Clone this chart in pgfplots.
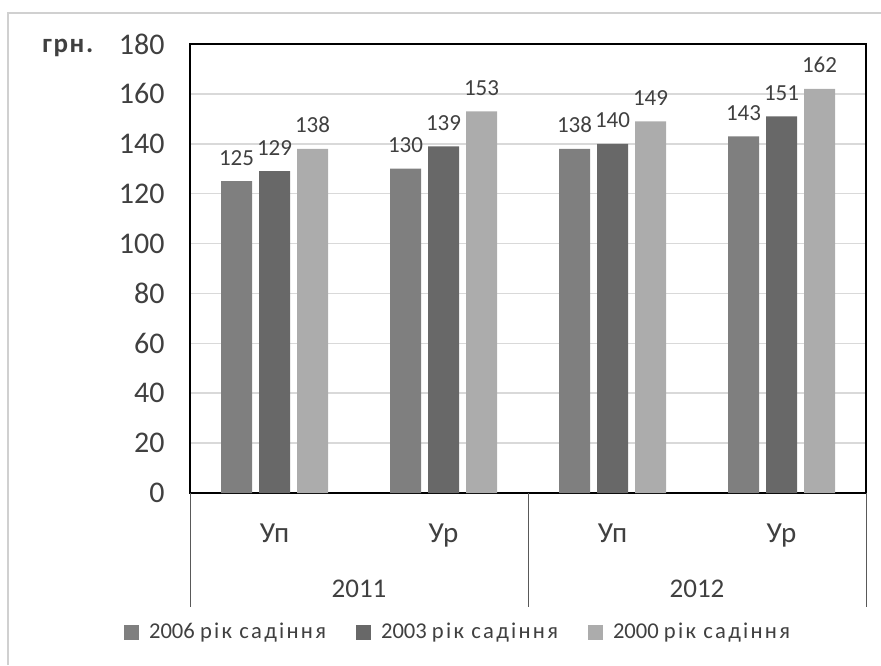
\documentclass[border=0pt]{standalone}
\usepackage{pgfplots}
\pgfplotsset{compat=1.18}
\usepackage{fontspec}
\setmainfont{Carlito}
\newfontfamily\spaced[LetterSpace=10]{Carlito}
\newfontfamily\spacedb[LetterSpace=6]{Carlito}
\definecolor{cA}{HTML}{7F7F7F}
\definecolor{cB}{HTML}{686868}
\definecolor{cC}{HTML}{ACACAC}
\definecolor{txt}{HTML}{404040}
\definecolor{gridc}{HTML}{D9D9D9}
\definecolor{framec}{HTML}{D0D0D0}
\definecolor{sepc}{HTML}{595959}
\begin{document}
\begin{tikzpicture}
\useasboundingbox (0,0) rectangle (440.5pt,332.5pt);
\draw[framec, line width=0.75pt] (4pt,0) -- (4pt,326pt) -- (440.5pt,326pt);
\node[anchor=base west, font=\fontsize{13.5}{15}\spacedb\bfseries, text=txt, inner sep=0] at (21pt,306pt) {грн.};
\begin{axis}[
 at={(95pt,86pt)}, anchor=south west, scale only axis, width=338pt, height=224.5pt,
 ybar=3.5pt, bar width=15.5pt,
 xmin=-0.5, xmax=3.5, ymin=0, ymax=180,
 xtick={0,1,2,3}, xticklabels={Уп,Ур,Уп,Ур},
 ytick={0,20,...,180},
 major tick length=0pt,
 axis line style={black, line width=0.75pt},
 ymajorgrids, grid style={gridc, line width=0.75pt},
 /pgf/number format/assume math mode=true,
 yticklabel style={font=\fontsize{15}{18}\selectfont, text=txt, inner sep=0pt, xshift=-12.5pt},
 xticklabel style={font=\fontsize{14.5}{17}\selectfont, text=txt, inner sep=0pt, anchor=base, yshift=-24.5pt},
 nodes near coords,
 every node near coord/.append style={font=\fontsize{11.5}{13}\selectfont, text=txt, anchor=base, yshift=8pt, inner sep=0pt},
 clip=false,
 legend columns=3,
 legend style={at={(0.398,-0.311)}, anchor=center, draw=none, font=\fontsize{11.3}{13}\selectfont, text=txt,
   /tikz/every even column/.append style={column sep=13pt}},
 legend image code/.code={\fill[#1] (0pt,-3.75pt) rectangle (7.5pt,3.75pt); \path (10.5pt,0pt);},
]
\addplot[fill=cA, draw=none] coordinates {(0,125) (1,130) (2,138) (3,143)};
\addplot[fill=cB, draw=none] coordinates {(0,129) (1,139) (2,140) (3,151)};
\addplot[fill=cC, draw=none] coordinates {(0,138) (1,153) (2,149) (3,162)};
\legend{2006 {\spaced рік садіння}, 2003 {\spaced рік садіння}, 2000 {\spaced рік садіння}}
\draw[sepc, line width=0.5pt] (axis cs:-0.5,0) -- ([yshift=-57pt]axis cs:-0.5,0);
\draw[sepc, line width=0.5pt] (axis cs:1.5,0) -- ([yshift=-57pt]axis cs:1.5,0);
\draw[sepc, line width=0.5pt] (axis cs:3.5,0) -- ([yshift=-57pt]axis cs:3.5,0);
\node[anchor=base, yshift=-52pt, font=\fontsize{13.5}{16}\selectfont, text=txt] at (axis cs:0.5,0) {2011};
\node[anchor=base, yshift=-52pt, font=\fontsize{13.5}{16}\selectfont, text=txt] at (axis cs:2.5,0) {2012};
\end{axis}
\end{tikzpicture}
\end{document}
